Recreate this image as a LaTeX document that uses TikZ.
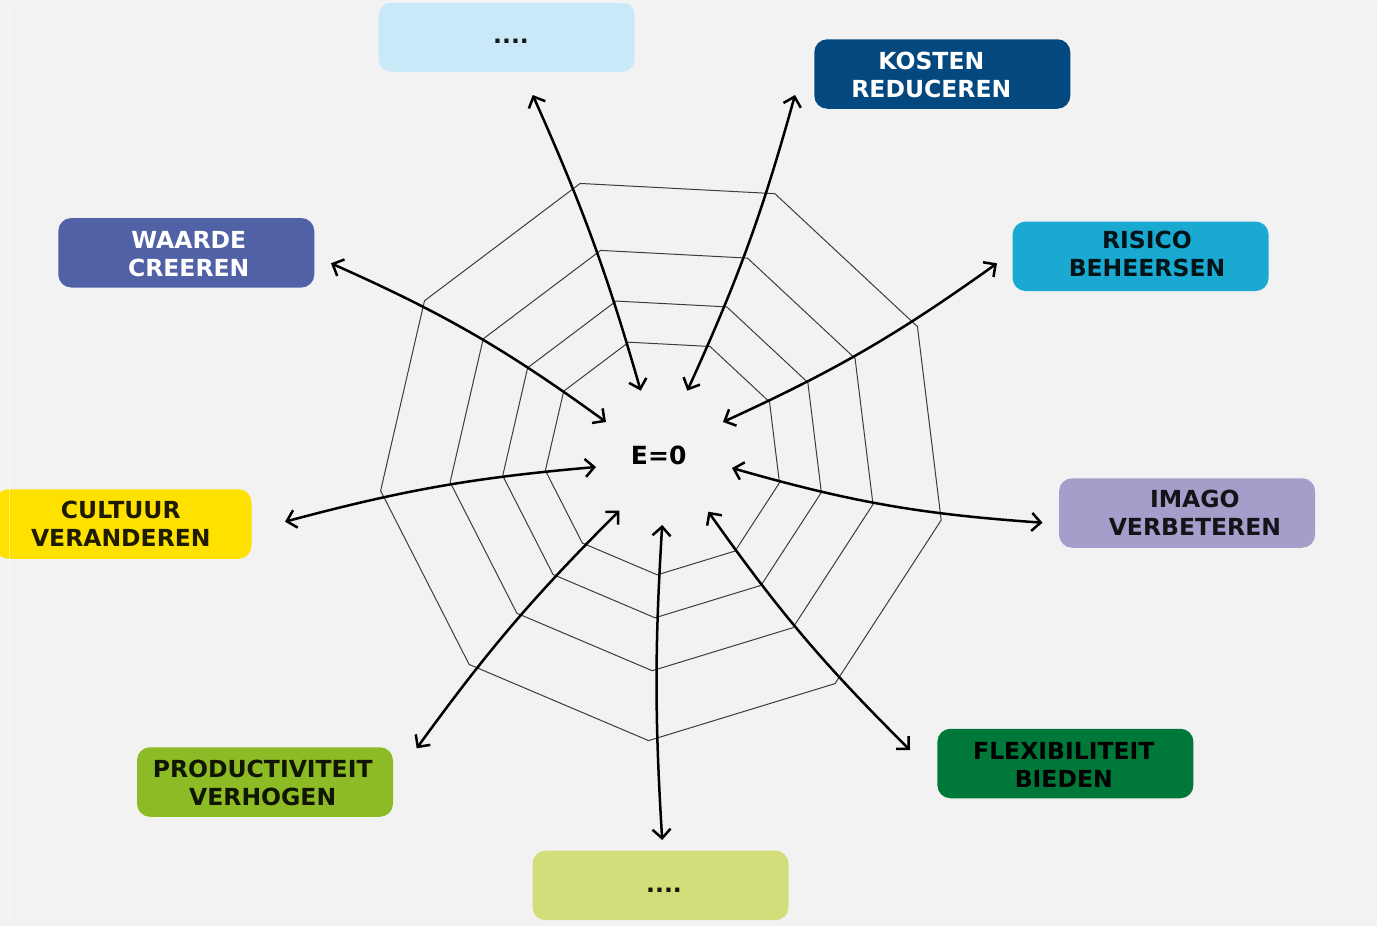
\documentclass[tikz,border=0pt]{standalone}
\usepackage{fontspec}
\setmainfont{DejaVu Sans}
\usetikzlibrary{arrows.meta}

\definecolor{bgcol}{HTML}{F2F2F2}
\definecolor{webcol}{HTML}{3C3C3C}
\definecolor{topcol}{HTML}{C9E8F8}
\definecolor{kostcol}{HTML}{03497F}
\definecolor{riscol}{HTML}{1AAAD1}
\definecolor{imacol}{HTML}{A39FCA}
\definecolor{flexcol}{HTML}{00783A}
\definecolor{botcol}{HTML}{D3DE7B}
\definecolor{prodcol}{HTML}{8DBB25}
\definecolor{cultcol}{HTML}{FFE100}
\definecolor{waarcol}{HTML}{5161A5}

\tikzset{
  web/.style={draw=webcol, line width=1pt, line join=miter},
  goalbox/.style={rounded corners=13pt, minimum width=256pt, minimum height=69.5pt,
    inner sep=0pt, draw=none},
  goaltext/.style={font=\fontsize{23.5}{28}\selectfont\bfseries, align=center, inner sep=0pt},
  link/.style={line width=2.5pt,
    arrows={Straight Barb[length=9pt,width=18pt]-Straight Barb[length=9pt,width=18pt]}}
}

\begin{document}
\begin{tikzpicture}[x=1pt,y=-1pt]
\useasboundingbox (0,0) rectangle (1377,926);
\clip (0,0) rectangle (1377,926);
\fill[bgcol] (0,0) rectangle (1377,926);

% spider web: four concentric nonagons
\foreach \r in {119,162,215,285}{
  \draw[web] ({663.5+\r*cos(27)},{456-\r*sin(27)})
    \foreach \k in {1,...,8}{ -- ({663.5+\r*cos(27+40*\k)},{456-\r*sin(27+40*\k)}) } -- cycle;
}

% goal boxes
\node[goalbox, fill=topcol]  (topbox)  at (506.7,37.2)  {};
\node[goalbox, fill=kostcol] (kosten)  at (942.3,74)    {};
\node[goalbox, fill=waarcol] (waarde)  at (186.3,252.8) {};
\node[goalbox, fill=riscol]  (risico)  at (1140.6,256.3){};
\node[goalbox, fill=cultcol] (cultuur) at (123.5,524)   {};
\node[goalbox, fill=imacol]  (imago)   at (1187.1,513)  {};
\node[goalbox, fill=flexcol] (flex)    at (1065.4,763.5){};
\node[goalbox, fill=prodcol] (prod)    at (265,782)     {};
\node[goalbox, fill=botcol]  (botbox)  at (660.5,885.4) {};

% box captions
\node[goaltext, text=black!90!topcol]   (topbox-t)  at (511,41.7)     {....};
\node[goaltext, text=white]             (kosten-t)  at (931.3,75.3)   {KOSTEN\\REDUCEREN};
\node[goaltext, text=white]             (waarde-t)  at (188.7,253.8)  {WAARDE\\CREEREN};
\node[goaltext, text=black!88!riscol]   (risico-t)  at (1147,253.7)   {RISICO\\BEHEERSEN};
\node[goaltext, text=black!88!cultcol]  (cultuur-t) at (120.8,523.3)  {CULTUUR\\VERANDEREN};
\node[goaltext, text=black!88!imacol]   (imago-t)   at (1194.9,512.7) {IMAGO\\VERBETEREN};
\node[goaltext, text=black]             (flex-t)    at (1063.8,764.9) {FLEXIBILITEIT\\BIEDEN};
\node[goaltext, text=black!88!prodcol]  (prod-t)    at (262.7,782.9)  {PRODUCTIVITEIT\\VERHOGEN};
\node[goaltext, text=black!90!botcol]   (botbox-t)  at (664,890.5)    {....};

% centre
\node[font=\fontsize{25}{30}\selectfont\bfseries, inner sep=0pt] (centre) at (658.7,455) {E=0};

% arrow ends near the centre and near the boxes
\coordinate (c1) at (640.7,390.7); \coordinate (b1) at (532.7,95);
\coordinate (c2) at (687.3,390.7); \coordinate (b2) at (795,95);
\coordinate (c3) at (723,422);     \coordinate (b3) at (997,263.3);
\coordinate (c4) at (732,468);     \coordinate (b4) at (1042.5,522.7);
\coordinate (c5) at (708.3,511.7); \coordinate (b5) at (910,750);
\coordinate (c6) at (662.2,525);   \coordinate (b6) at (662.2,840);
\coordinate (c7) at (619.3,510.7); \coordinate (b7) at (416.7,748.3);
\coordinate (c8) at (606,422);     \coordinate (b8) at (331,263.3);
\coordinate (c9) at (596,467);     \coordinate (b9) at (285,521.7);

\draw[link] (c1) to[bend right=4]   (b1);
\draw[link] (c2) to[bend right=4.5] (b2);
\draw[link] (c3) to[bend right=5.5] (b3);
\draw[link] (c4) to[bend right=6]   (b4);
\draw[link] (c5) to[bend right=5]   (b5);
\draw[link] (c6) to[bend right=3.5] (b6);
\draw[link] (c7) to[bend right=4.5] (b7);
\draw[link] (c8) to[bend right=6]   (b8);
\draw[link] (c9) to[bend right=5]   (b9);

% faint page frame
\draw[white, opacity=0.45, line width=1pt] (9.5,926) -- (9.5,2.5) -- (1377,2.5);
\end{tikzpicture}
\end{document}
